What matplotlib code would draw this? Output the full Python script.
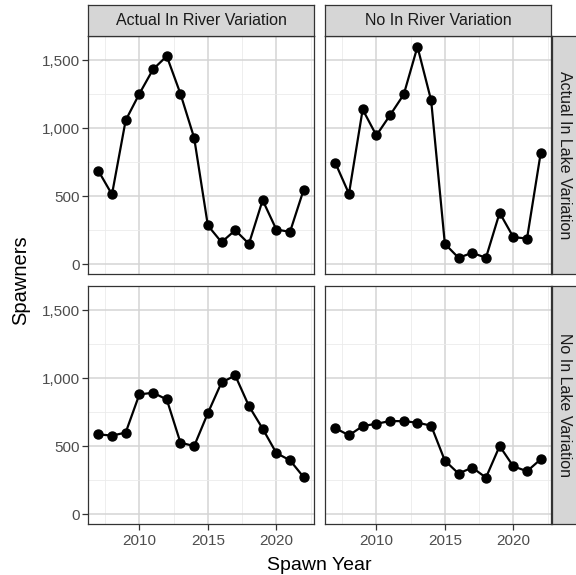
import numpy as np
import matplotlib.pyplot as plt
from matplotlib.ticker import FuncFormatter, MultipleLocator

plt.rcParams['font.family'] = ['Liberation Sans', 'DejaVu Sans']

years = np.arange(2007, 2023)
river_labels = ["Actual In River Variation", "No In River Variation"]
lake_labels = ["Actual In Lake Variation", "No In Lake Variation"]

# spawners by (lake scenario, river scenario)
actual_lake_actual_river = [690, 515, 1060, 1255, 1435, 1532, 1255, 931, 287, 164, 252, 152, 473, 257, 240, 551]
actual_lake_no_river = [748, 520, 1140, 949, 1098, 1250, 1601, 1206, 152, 49, 86, 49, 380, 201, 191, 821]
no_lake_actual_river = [589, 580, 602, 883, 895, 846, 528, 503, 745, 971, 1022, 797, 631, 452, 398, 274]
no_lake_no_river = [635, 582, 650, 667, 687, 686, 675, 653, 396, 301, 345, 271, 503, 354, 318, 406]

panels = [[actual_lake_actual_river, actual_lake_no_river],
          [no_lake_actual_river, no_lake_no_river]]

W, H = 576, 575
fig = plt.figure(figsize=(W / 100, H / 100), dpi=100)

def box(x0, y0, x1, y1):
    # pixel box (top-left origin) -> figure fraction rect
    return [x0 / W, 1 - y1 / H, (x1 - x0) / W, (y1 - y0) / H]

col_x = [(88, 314), (325, 551)]
row_y = [(36, 274), (286, 524)]

ylim = (-70, 1680)
xlim = (years[0] - 0.05 * (years[-1] - years[0]), years[-1] + 0.05 * (years[-1] - years[0]))

edge = '#333333'
grid_major = '#d4d4d4'
grid_minor = '#ebebeb'
tick_col = '#4d4d4d'

for r in range(2):
    for c in range(2):
        ax = fig.add_axes(box(col_x[c][0], row_y[r][0], col_x[c][1], row_y[r][1]))
        ax.plot(years, panels[r][c], color='black', lw=1.6, zorder=3)
        ax.scatter(years, panels[r][c], s=42, color='black', zorder=4)
        ax.set_xlim(xlim)
        ax.set_ylim(ylim)
        ax.xaxis.set_major_locator(MultipleLocator(5))
        ax.xaxis.set_minor_locator(MultipleLocator(2.5))
        ax.yaxis.set_major_locator(MultipleLocator(500))
        ax.yaxis.set_minor_locator(MultipleLocator(250))
        ax.grid(which='major', color=grid_major, lw=1.1, zorder=0)
        ax.grid(which='minor', color=grid_minor, lw=0.6, zorder=0)
        ax.set_axisbelow(True)
        for s in ax.spines.values():
            s.set_color(edge)
            s.set_linewidth(0.9)
        ax.tick_params(which='minor', length=0)
        ax.tick_params(which='major', length=4, width=0.9, color=edge,
                       labelcolor=tick_col, labelsize=11, pad=2)
        ax.tick_params(axis='x', pad=3)
        ax.yaxis.set_major_formatter(FuncFormatter(lambda v, p: f"{int(v):,}"))
        if c == 1:
            ax.tick_params(axis='y', left=False, labelleft=False)
        if r == 0:
            ax.tick_params(axis='x', bottom=False, labelbottom=False)

# column strips
for c in range(2):
    sax = fig.add_axes(box(col_x[c][0], 5, col_x[c][1], 36))
    sax.set_xticks([])
    sax.set_yticks([])
    sax.set_facecolor('#d6d6d6')
    for s in sax.spines.values():
        s.set_color(edge)
        s.set_linewidth(0.9)
    sax.text(0.5, 0.5, river_labels[c], ha='center', va='center',
             fontsize=11.5, color='#1a1a1a', transform=sax.transAxes)

# row strips
for r in range(2):
    sax = fig.add_axes(box(552, row_y[r][0], 582, row_y[r][1]))
    sax.set_xticks([])
    sax.set_yticks([])
    sax.set_facecolor('#d6d6d6')
    for s in sax.spines.values():
        s.set_color(edge)
        s.set_linewidth(0.9)
    sax.text(0.4, 0.5, lake_labels[r], ha='center', va='center', rotation=-90,
             fontsize=11.5, color='#1a1a1a', transform=sax.transAxes)

fig.text((88 + 551) / 2 / W, 1 - 570 / H, "Spawn Year", ha='center', va='baseline', fontsize=14)
fig.text(21 / W, 1 - 280 / H, "Spawners", ha='center', va='center', rotation=90, fontsize=14.5)

fig.savefig("out.png", dpi=100)
